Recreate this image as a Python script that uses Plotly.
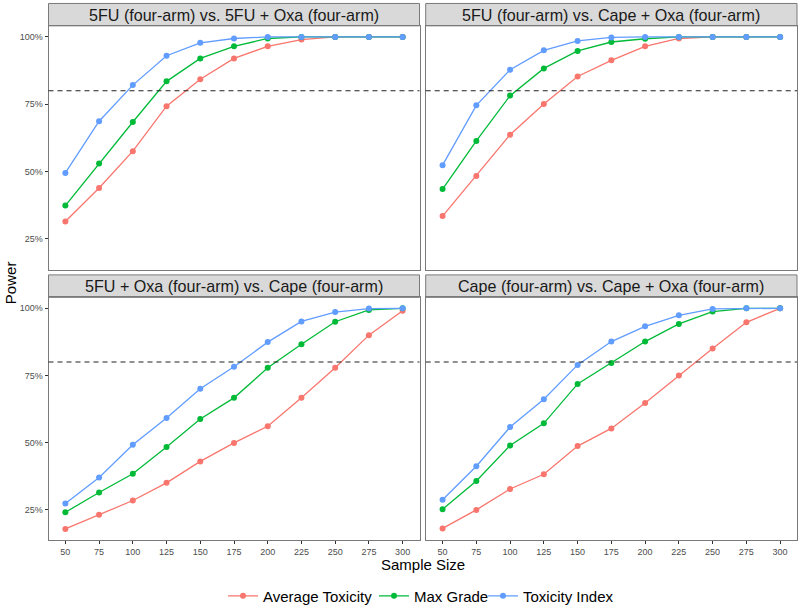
import plotly.graph_objects as go

# ── Data ─────────────────────────────────────────────────────────────
sample_sizes = [50, 75, 100, 125, 150, 175, 200, 225, 250, 275, 300]

panel_titles = [
    "5FU (four-arm) vs. 5FU + Oxa (four-arm)",
    "5FU (four-arm) vs. Cape + Oxa (four-arm)",
    "5FU + Oxa (four-arm) vs. Cape (four-arm)",
    "Cape (four-arm) vs. Cape + Oxa (four-arm)",
]

# power, per panel (fractions)
avg_tox = [
    [0.315, 0.439, 0.576, 0.743, 0.843, 0.920, 0.965, 0.990, 1.000, 1.000, 1.000],
    [0.335, 0.484, 0.637, 0.751, 0.853, 0.913, 0.965, 0.994, 1.000, 1.000, 1.000],
    [0.177, 0.230, 0.283, 0.349, 0.429, 0.498, 0.560, 0.666, 0.778, 0.900, 0.991],
    [0.179, 0.248, 0.326, 0.381, 0.486, 0.552, 0.647, 0.749, 0.850, 0.948, 1.000],
]
max_grade = [
    [0.374, 0.530, 0.684, 0.835, 0.920, 0.965, 0.994, 1.000, 1.000, 1.000, 1.000],
    [0.435, 0.614, 0.782, 0.883, 0.948, 0.981, 0.993, 1.000, 1.000, 1.000, 1.000],
    [0.239, 0.313, 0.383, 0.483, 0.587, 0.666, 0.778, 0.866, 0.950, 0.994, 1.000],
    [0.250, 0.356, 0.488, 0.571, 0.718, 0.796, 0.876, 0.942, 0.988, 1.000, 1.000],
]
tox_index = [
    [0.495, 0.687, 0.821, 0.930, 0.978, 0.994, 1.000, 1.000, 1.000, 1.000, 1.000],
    [0.524, 0.746, 0.878, 0.950, 0.985, 0.998, 1.000, 1.000, 1.000, 1.000, 1.000],
    [0.272, 0.369, 0.491, 0.591, 0.700, 0.782, 0.874, 0.951, 0.986, 0.999, 1.000],
    [0.286, 0.411, 0.557, 0.661, 0.789, 0.876, 0.933, 0.974, 0.998, 1.000, 1.000],
]

target_power = 0.8

series = [
    ("Average Toxicity", avg_tox, "#F8766D"),
    ("Max Grade", max_grade, "#00BA38"),
    ("Toxicity Index", tox_index, "#619CFF"),
]

# ── Layout geometry (paper fractions) ────────────────────────────────
W, H = 800, 613
x_doms = [[48.5 / W, 419.5 / W], [425.7 / W, 797 / W]]
y_doms = [[1 - 272 / H, 1 - 26 / H], [1 - 544 / H, 1 - 299.3 / H]]
strip_tops = [1 - 3.5 / H, 1 - 276.7 / H]
legend_left = [223, 374, 483]   # px, one legend box per series

FONT = "Liberation Sans, Arial, Helvetica, sans-serif"
BORDER = "#7a7a7a"

fig = go.Figure()

shapes = []
annotations = []
for p in range(4):
    r, c = divmod(p, 2)
    idx = "" if p == 0 else str(p + 1)
    xa, ya = "x" + idx, "y" + idx

    for k, (name, vals, col) in enumerate(series):
        fig.add_trace(go.Scatter(
            x=sample_sizes, y=vals[p],
            mode="lines+markers", name=name,
            line=dict(color=col, width=1.3),
            marker=dict(color=col, size=6),
            xaxis=xa, yaxis=ya,
            showlegend=(p == 0),
            legendgroup=name,
            legend="legend" if k == 0 else f"legend{k + 1}",
        ))

    fig.update_layout(**{
        "xaxis" + idx: dict(
            domain=x_doms[c], anchor=ya, range=[37.5, 312.5],
            tickvals=sample_sizes, showticklabels=(r == 1),
            ticks="outside" if r == 1 else "", ticklen=3, tickcolor="#333",
            tickfont=dict(size=9, color="#4d4d4d"),
            showline=True, linecolor=BORDER, linewidth=1, mirror=True,
            showgrid=False, zeroline=False,
        ),
        "yaxis" + idx: dict(
            domain=y_doms[r], anchor=xa, range=[0.134, 1.041],
            tickvals=[0.25, 0.5, 0.75, 1.0], tickformat=".0%",
            showticklabels=(c == 0),
            ticks="outside" if c == 0 else "", ticklen=3, tickcolor="#333",
            tickfont=dict(size=9, color="#4d4d4d"),
            showline=True, linecolor=BORDER, linewidth=1, mirror=True,
            showgrid=False, zeroline=False,
        ),
    })

    # target power line
    shapes.append(dict(
        type="line", xref=xa + " domain", yref=ya,
        x0=0, x1=1, y0=target_power, y1=target_power,
        line=dict(color="#222", width=1.1, dash="5px,4px"),
    ))

    # facet strip
    shapes.append(dict(
        type="rect", xref="paper", yref="paper",
        x0=x_doms[c][0], x1=x_doms[c][1],
        y0=y_doms[r][1], y1=strip_tops[r],
        fillcolor="#D9D9D9", line=dict(color=BORDER, width=1),
        layer="below",
    ))
    annotations.append(dict(
        text=panel_titles[p], xref="paper", yref="paper",
        x=sum(x_doms[c]) / 2, y=(y_doms[r][1] + strip_tops[r]) / 2,
        xanchor="center", yanchor="middle", showarrow=False,
        font=dict(size=16.1, color="#1a1a1a"),
    ))

annotations.append(dict(
    text="Sample Size", xref="paper", yref="paper",
    x=(x_doms[0][0] + x_doms[1][1]) / 2, y=1 - 557.5 / H,
    xanchor="center", yanchor="top", showarrow=False,
    font=dict(size=15, color="black"),
))
annotations.append(dict(
    text="Power", xref="paper", yref="paper",
    x=10 / W, y=(y_doms[0][1] + y_doms[1][0]) / 2,
    xanchor="center", yanchor="middle", showarrow=False, textangle=-90,
    font=dict(size=15, color="black"),
))

legends = {}
for k, left in enumerate(legend_left):
    key = "legend" if k == 0 else f"legend{k + 1}"
    legends[key] = dict(
        orientation="h", x=left / W, xanchor="left",
        y=1 - 600 / H, yanchor="middle",
        font=dict(size=15, color="black"),
        bgcolor="rgba(0,0,0,0)",
    )

fig.update_layout(
    width=W, height=H,
    margin=dict(l=0, r=0, t=0, b=0),
    plot_bgcolor="white", paper_bgcolor="white",
    font=dict(family=FONT),
    shapes=shapes, annotations=annotations,
    **legends,
)

# page body has an 8px default margin; drop it so the figure sits at 0,0
fig.write_html(
    "out.html",
    config={"displayModeBar": False},
    post_script="document.body.style.margin='0px';",
)
